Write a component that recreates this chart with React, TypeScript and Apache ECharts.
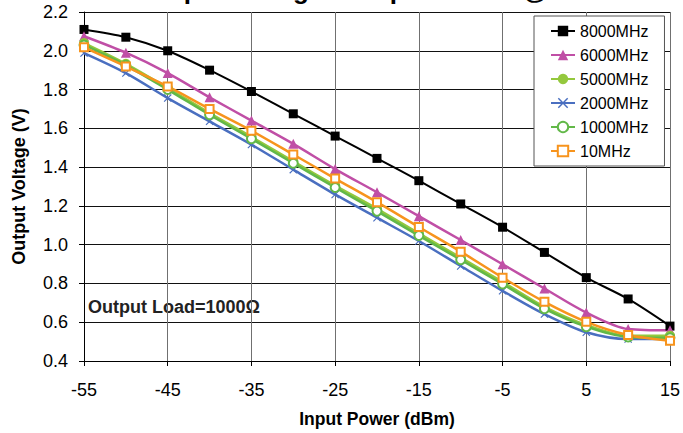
import React, { useEffect, useRef } from 'react';
import * as echarts from 'echarts';

const xLabels = ['-55', '-50', '-45', '-40', '-35', '-30', '-25', '-20', '-15', '-10', '-5', '0', '5', '10', '15'];
const v8000 = [2.11, 2.07, 2.0, 1.9, 1.79, 1.675, 1.56, 1.445, 1.33, 1.21, 1.09, 0.96, 0.83, 0.72, 0.58];
const v6000 = [2.075, 1.99, 1.885, 1.76, 1.64, 1.52, 1.39, 1.27, 1.147, 1.024, 0.899, 0.774, 0.65, 0.565, 0.558];
const v5000 = [2.04, 1.933, 1.808, 1.679, 1.556, 1.43, 1.305, 1.185, 1.058, 0.933, 0.808, 0.679, 0.585, 0.53, 0.53];
const v2000 = [1.988, 1.885, 1.756, 1.636, 1.516, 1.387, 1.259, 1.139, 1.019, 0.89, 0.762, 0.642, 0.548, 0.513, 0.513];
const v1000 = [2.03, 1.925, 1.8, 1.67, 1.546, 1.42, 1.295, 1.173, 1.047, 0.922, 0.797, 0.67, 0.577, 0.524, 0.52];
const v10 = [2.018, 1.919, 1.816, 1.7, 1.588, 1.465, 1.341, 1.219, 1.091, 0.964, 0.83, 0.705, 0.602, 0.534, 0.504];

const titleText = 'Output Voltage vs Input Power @ 25°C';
const noteText = 'Output Load=1000Ω';
const xName = 'Input Power (dBm)';
const yName = 'Output Voltage (V)';

const FONT = '"Liberation Sans", Arial, sans-serif';
const CROSS = 'path://M0,1L1,0L5,4L9,0L10,1L6,5L10,9L9,10L5,6L1,10L0,9L4,5Z';

function mk(name: string, data: number[], color: string, symbol: string, size: number, lw: number, hollow = false) {
  return {
    name,
    type: 'line',
    data,
    smooth: 0.3,
    symbol,
    symbolSize: size,
    showSymbol: true,
    lineStyle: { color, width: lw },
    itemStyle: hollow ? { color, borderColor: color, borderWidth: 1.3 } : { color, borderWidth: 0 },
    emphasis: { disabled: true },
  };
}

export default function App() {
  const ref = useRef<HTMLDivElement>(null);
  useEffect(() => {
    const chart = echarts.init(ref.current!, null, { renderer: 'svg' });
    chart.setOption({
      animation: false,
      backgroundColor: '#fff',
      textStyle: { fontFamily: FONT },
      grid: { left: 84, right: 12, top: 12, bottom: 71, containLabel: false },
      legend: {
        orient: 'vertical',
        left: 534,
        top: 16,
        padding: [7, 16, 7, 16],
        itemGap: 8,
        itemWidth: 24,
        itemHeight: 13,
        backgroundColor: '#fff',
        borderColor: '#555',
        borderWidth: 1,
        borderRadius: 0,
        textStyle: { fontSize: 16, color: '#000', fontFamily: FONT, lineHeight: 15 },
        data: ['8000MHz', '6000MHz', '5000MHz', '2000MHz', '1000MHz', '10MHz'],
      },
      xAxis: {
        type: 'category',
        data: xLabels,
        boundaryGap: false,
        name: xName,
        nameLocation: 'middle',
        nameGap: 49,
        nameTextStyle: { fontSize: 17.5, fontWeight: 'bold', color: '#000', fontFamily: FONT },
        axisLine: { lineStyle: { color: '#000', width: 1 } },
        axisTick: { show: true, interval: 1, length: 5, lineStyle: { color: '#000' } },
        axisLabel: { interval: 1, margin: 20, fontSize: 18, color: '#000', fontFamily: FONT },
        splitLine: { show: true, interval: 1, lineStyle: { color: '#707070', width: 1 } },
      },
      yAxis: {
        type: 'value',
        min: 0.4,
        max: 2.2,
        interval: 0.2,
        name: yName,
        nameLocation: 'middle',
        nameGap: 56,
        nameTextStyle: { fontSize: 18, fontWeight: 'bold', color: '#000', fontFamily: FONT },
        axisLine: { show: true, lineStyle: { color: '#000', width: 1 } },
        axisTick: { show: true, length: 5, lineStyle: { color: '#000' } },
        axisLabel: { margin: 16, fontSize: 18, color: '#000', fontFamily: FONT, formatter: (v: number) => v.toFixed(1) },
        splitLine: { show: true, lineStyle: { color: '#111', width: 1 } },
      },
      graphic: [
        {
          type: 'text',
          x: 139,
          y: -10,
          style: { text: titleText, fontSize: 26, fontWeight: 'bold', fontFamily: FONT, fill: '#000', verticalAlign: 'middle', align: 'left' },
        },
        {
          type: 'text',
          x: 88,
          y: 307,
          style: { text: noteText, fontSize: 18, fontWeight: 'bold', fontFamily: FONT, fill: '#222', verticalAlign: 'middle', align: 'left' },
        },
      ],
      series: [
        mk('8000MHz', v8000, '#000000', 'rect', 9, 2),
        mk('6000MHz', v6000, '#c04fa6', 'triangle', 10, 2.5),
        mk('5000MHz', v5000, '#94c83d', 'circle', 10, 2.5),
        mk('2000MHz', v2000, '#4a6fc0', CROSS, 8, 2.5),
        mk('1000MHz', v1000, '#62b848', 'emptyCircle', 9, 2.5, true),
        mk('10MHz', v10, '#f7941d', 'emptyRect', 8, 2.5, true),
      ],
    });
    return () => chart.dispose();
  }, []);
  return <div ref={ref} style={{ position: 'fixed', left: 0, top: 0, width: 683, height: 433, background: '#fff' }} />;
}
